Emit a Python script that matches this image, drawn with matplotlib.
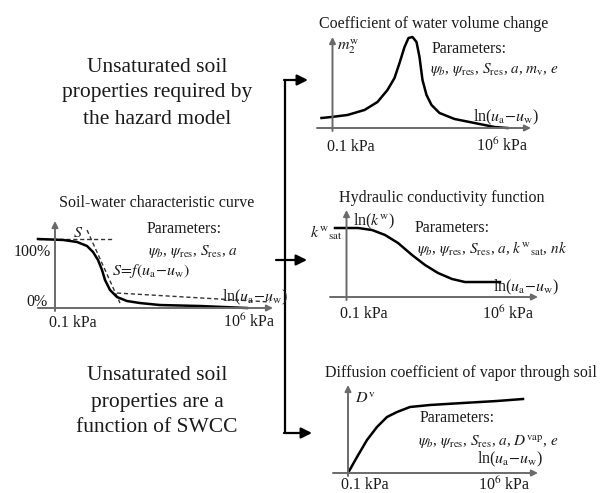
import matplotlib
matplotlib.use("Agg")
import matplotlib.pyplot as plt

W, H = 602, 493
plt.rcParams["font.family"] = ["Liberation Serif", "DejaVu Serif"]
plt.rcParams["mathtext.fontset"] = "stix"

# ---- curve data: x = log10 suction (kPa), y = normalised property ----
swcc_suction = [-1.617, -0.710, -0.202, 0.161, 0.378, 0.560, 0.705, 0.814, 0.995,
                1.249, 1.612, 2.083, 2.808, 4.259, 5.964]
swcc_sat = [1.0, 0.986, 0.957, 0.899, 0.812, 0.696, 0.551, 0.406, 0.261,
            0.159, 0.101, 0.072, 0.043, 0.029, 0.0]
swcc_plateau_s = [-1.617, 1.068]
swcc_plateau_v = [1.0, 1.0]
swcc_tangent_s = [0.161, 1.358]
swcc_tangent_v = [1.130, 0.072]
swcc_resid_s = [1.249, 6.798]
swcc_resid_v = [0.217, 0.087]

m2w_suction = [-1.456, -1.041, -0.379, 0.326, 0.864, 1.278, 1.568, 1.776, 1.983, 2.148,
               2.314, 2.480, 2.604, 2.728, 2.894, 3.101, 3.432, 4.054, 4.882, 5.711, 6.250]
m2w_value = [0.110, 0.121, 0.143, 0.198, 0.286, 0.418, 0.549, 0.714, 0.890, 0.989,
             1.0, 0.945, 0.780, 0.527, 0.363, 0.253, 0.165, 0.099, 0.055, 0.011, 0.0]

kw_suction = [-1.491, -0.509, 0.088, 0.643, 1.198, 1.796, 2.350, 2.905, 3.503, 4.058,
              4.911, 5.552]
kw_value = [1.0, 1.0, 0.971, 0.899, 0.783, 0.609, 0.464, 0.348, 0.261, 0.217,
            0.217, 0.217]

dv_suction = [-1.0, -0.596, -0.148, 0.301, 0.750, 1.198, 1.781, 2.679, 4.159, 5.685, 6.851]
dv_value = [0.0, 0.216, 0.446, 0.622, 0.757, 0.824, 0.892, 0.919, 0.946, 0.973, 1.0]

params_swcc = r"$\psi_b$, $\psi_{\rm res}$, $S_{\rm res}$, $a$"
params_m2w = r"$\psi_b$, $\psi_{\rm res}$, $S_{\rm res}$, $a$, $m_{\rm v}$, $e$"
params_kw = r"$\psi_b$, $\psi_{\rm res}$, $S_{\rm res}$, $a$, $k^{\rm w}{}_{\rm sat}$, $nk$"
params_dv = r"$\psi_b$, $\psi_{\rm res}$, $S_{\rm res}$, $a$, $D^{\rm vap}$, $e$"
suction_label = r"ln($u_{\rm a}$$-$$u_{\rm w}$)"
tick_low = "0.1 kPa"
tick_high = r"10$^6$ kPa"

AXIS_C = "#6a6a6a"
TXT = "#1a1a1a"
FS = 11.5
PFS = 11
BIG = 15.5

fig = plt.figure(figsize=(W / 100, H / 100), dpi=100)
ov = fig.add_axes([0, 0, 1, 1])
ov.set_xlim(0, W)
ov.set_ylim(H, 0)
ov.axis("off")


def panel(x0, y0, sx, sy, xl, xt, yt):
    """Axes whose origin (s=-1, v=0) sits at pixel (x0, y0)."""
    ax = fig.add_axes([x0 / W, 1 - y0 / H, 7 * sx / W, sy / H])
    ax.set_xlim(-1, 6)
    ax.set_ylim(0, 1)
    ax.axis("off")
    s = lambda px: -1 + (px - x0) / sx
    v = lambda py: (y0 - py) / sy
    ap = dict(arrowstyle="-|>", color=AXIS_C, lw=1.4, mutation_scale=9,
              shrinkA=0, shrinkB=0)
    ax.annotate("", xy=(s(xt), 0), xytext=(s(xl), 0), arrowprops=ap,
                annotation_clip=False)
    ax.annotate("", xy=(-1, v(yt)), xytext=(-1, v(y0 + 3)), arrowprops=ap,
                annotation_clip=False)
    return ax


dash = dict(ls=(0, (3, 2)), color="#333333", lw=1.0, clip_on=False)
solid = dict(color="black", lw=1.8, clip_on=False, solid_joinstyle="round")

# Soil-water characteristic curve
a0 = panel(55, 308, 27.57, 69, 38, 273, 221)
a0.plot(swcc_plateau_s, swcc_plateau_v, **dash)
a0.plot(swcc_tangent_s, swcc_tangent_v, **dash)
a0.plot(swcc_resid_s, swcc_resid_v, **dash)
a0.plot(swcc_suction, swcc_sat, **solid)

# Coefficient of water volume change
a1 = panel(332.5, 128, 24.14, 91, 317, 531, 37)
a1.plot(m2w_suction, m2w_value, **solid)

# Hydraulic conductivity
a2 = panel(346.5, 297, 23.43, 69, 330, 538, 210)
a2.plot(kw_suction, kw_value, **solid)

# Vapour diffusion
a3 = panel(348, 473, 22.29, 74, 333, 538, 385)
a3.plot(dv_suction, dv_value, **solid)


def t(x, y, s, ha="left", size=FS, **kw):
    ov.text(x, y, s, ha=ha, va="center", fontsize=size, color=TXT, **kw)


# left-hand statements
for i, line in enumerate(["Unsaturated soil", "properties required by", "the hazard model"]):
    t(157, 67 + 26 * i, line, ha="center", size=BIG)
for i, line in enumerate(["Unsaturated soil", "properties are a", "function of SWCC"]):
    t(157, 376 + 26 * i, line, ha="center", size=BIG)

# SWCC labels
t(157, 203, "Soil-water characteristic curve", ha="center")
t(147, 229, "Parameters:")
t(148, 251, params_swcc, size=PFS)
t(112, 271, r"$S\!=\!f(u_{\rm a}\!-\!u_{\rm w})$")
t(51, 252, "100%", ha="right")
t(48, 302, "0%", ha="right")
t(222, 297, suction_label)
t(73, 323, tick_low, ha="center")
t(249, 322, tick_high, ha="center")
t(73, 233, r"$S$")

# water volume change labels
t(434, 24, "Coefficient of water volume change", ha="center")
t(337, 47, r"$m_2^{\rm w}$")
t(432, 49, "Parameters:")
t(430, 70, params_m2w, size=PFS)
t(473, 117, suction_label)
t(351, 147, tick_low, ha="center")
t(502, 146, tick_high, ha="center")

# hydraulic conductivity labels
t(442, 198, "Hydraulic conductivity function", ha="center")
t(353, 221, r"ln($k^{\rm w}$)")
t(343, 233, r"$k^{\rm w}{}_{\rm sat}$", ha="right")
t(415, 228, "Parameters:")
t(417, 249, params_kw, size=PFS)
t(493, 287, suction_label)
t(364, 314, tick_low, ha="center")
t(508, 314, tick_high, ha="center")

# vapour diffusion labels
t(461, 373, "Diffusion coefficient of vapor through soil", ha="center")
t(355, 399, r"$D^{\rm v}$")
t(420, 418, "Parameters:")
t(418, 442, params_dv, size=PFS)
t(477, 459, suction_label)
t(365, 485, tick_low, ha="center")
t(504, 485, tick_high, ha="center")

# connectors
ov.plot([285, 285], [80, 433], color="black", lw=1.6, solid_capstyle="butt")
cap = dict(arrowstyle="-|>", color="black", lw=1.6, mutation_scale=16,
           shrinkA=0, shrinkB=0)
ov.annotate("", xy=(308, 80), xytext=(284, 80), arrowprops=cap)
ov.annotate("", xy=(307, 260), xytext=(276, 260), arrowprops=cap)
ov.annotate("", xy=(312, 433), xytext=(284, 433), arrowprops=cap)

fig.savefig("out.png", dpi=100)
